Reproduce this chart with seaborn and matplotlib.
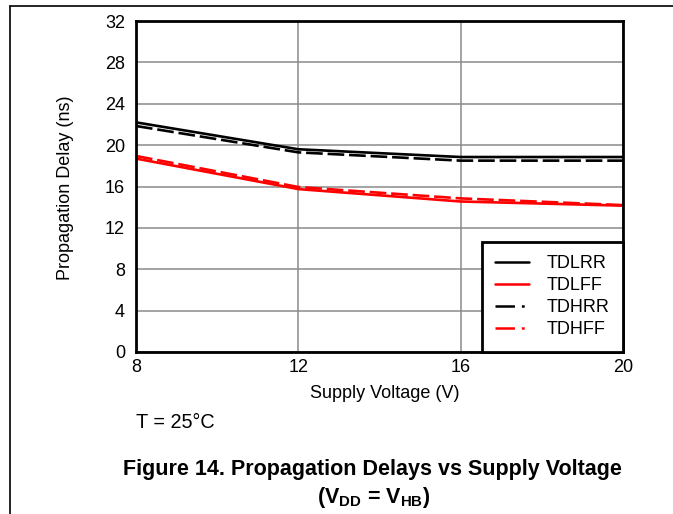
import matplotlib
matplotlib.use("Agg")
import matplotlib.pyplot as plt
import seaborn as sns
import pandas as pd
from matplotlib.lines import Line2D

# Data
voltage = [8, 12, 16, 20]
tdlrr = [22.2, 19.6, 18.85, 18.85]
tdlff = [18.7, 15.75, 14.55, 14.15]
tdhrr = [21.85, 19.3, 18.5, 18.5]
tdhff = [18.95, 15.95, 14.85, 14.2]
series_names = ["TDLRR", "TDLFF", "TDHRR", "TDHFF"]
x_ticks = [8, 12, 16, 20]
y_ticks = [0, 4, 8, 12, 16, 20, 24, 28, 32]

sns.set_theme(style="white")
plt.rcParams["font.family"] = ["Liberation Sans", "DejaVu Sans"]
plt.rcParams["lines.scale_dashes"] = False
plt.rcParams["text.color"] = "black"
plt.rcParams["axes.labelcolor"] = "black"
plt.rcParams["mathtext.fontset"] = "custom"
plt.rcParams["mathtext.rm"] = "Liberation Sans"
plt.rcParams["mathtext.bf"] = "Liberation Sans:bold"

rows = []
for name, vals in zip(series_names, [tdlrr, tdlff, tdhrr, tdhff]):
    for v, d in zip(voltage, vals):
        rows.append({"Voltage": v, "Delay": d, "Series": name})
df = pd.DataFrame(rows)

fig = plt.figure(figsize=(6.73, 5.14), dpi=100)
ax = fig.add_axes([136/673, 1-352/514, (623-136)/673, (352-21)/514])

palette = {"TDLRR": "black", "TDLFF": "#ff0000", "TDHRR": "black", "TDHFF": "#ff0000"}
dashes = {"TDLRR": "", "TDLFF": "", "TDHRR": (12, 3.5), "TDHFF": (12, 3.5)}
sns.lineplot(data=df, x="Voltage", y="Delay", hue="Series", style="Series",
             hue_order=series_names, style_order=series_names,
             palette=palette, dashes=dashes, linewidth=1.9, ax=ax, legend=False)

ax.set_xlim(8, 20)
ax.set_ylim(0, 32)
ax.set_xticks(x_ticks)
ax.set_yticks(y_ticks)
ax.set_xticklabels([str(t) for t in x_ticks])
ax.set_yticklabels([str(t) for t in y_ticks])
ax.tick_params(axis="both", length=0, labelsize=13, colors="black")
ax.tick_params(axis="y", pad=8)
ax.tick_params(axis="x", pad=5)
ax.grid(True, color="#8a8a8a", linewidth=1.1)
ax.set_axisbelow(True)
for s in ax.spines.values():
    s.set_visible(True)
    s.set_color("black")
    s.set_linewidth(2.0)
ax.set_xlabel("")
ax.set_ylabel("")

# Legend
handles = [
    Line2D([], [], color="black", lw=1.8),
    Line2D([], [], color="#ff0000", lw=1.8),
    Line2D([], [], color="black", lw=1.8, dashes=(14, 5, 2, 5)),
    Line2D([], [], color="#ff0000", lw=1.8, dashes=(14, 5, 2, 5)),
]
leg = ax.legend(handles, series_names, loc="lower right", borderaxespad=0,
                fontsize=13, frameon=True, fancybox=False, handlelength=1.9,
                handletextpad=0.95, labelspacing=0.28, borderpad=0.75,
                framealpha=1)
leg.get_frame().set_edgecolor("black")
leg.get_frame().set_linewidth(2.0)

fig.text(65/673, 1-188/514, "Propagation Delay (ns)", rotation=90,
         ha="center", va="center", fontsize=13)
fig.text(385/673, 1-394/514, "Supply Voltage (V)", ha="center", va="center", fontsize=13)
fig.text(136/673, 1-422/514, "T = 25°C", ha="left", va="center", fontsize=14.3)
fig.text(372/673, 1-469/514, "Figure 14. Propagation Delays vs Supply Voltage",
         ha="center", va="center", fontsize=15.5, fontweight="bold")
fig.text(374/673, 1-497/514, r"(V$_{\mathbf{DD}}$ = V$_{\mathbf{HB}}$)",
         ha="center", va="center", fontsize=15.5, fontweight="bold")

# Page border lines
fig.add_artist(Line2D([10/673, 10/673], [0, 1-6/514], transform=fig.transFigure,
                      color="black", lw=1.2))
fig.add_artist(Line2D([10/673, 1], [1-6/514, 1-6/514], transform=fig.transFigure,
                      color="black", lw=1.2))

fig.savefig("out.png", dpi=100)
